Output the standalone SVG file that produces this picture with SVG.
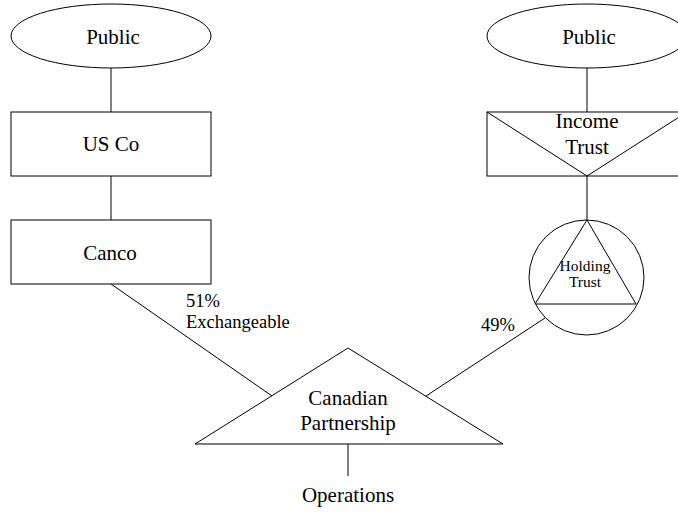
<svg xmlns="http://www.w3.org/2000/svg" width="678" height="512" viewBox="0 0 678 512" font-family="Liberation Serif">
  <style>
    .shape { fill: none; stroke: #000; stroke-width: 1; }
    .link { fill: none; stroke: #000; stroke-width: 1; }
    .lbl { font-size: 21px; text-anchor: middle; fill: #000; }
    .pct { font-size: 18.5px; fill: #000; }
    .small { font-size: 15.5px; text-anchor: middle; fill: #000; }
  </style>
  <rect width="678" height="512" fill="#fff"/>

  <g id="connectors">
    <line class="link" x1="111" y1="68" x2="111" y2="112"/>
    <line class="link" x1="111" y1="176" x2="111" y2="220"/>
    <line class="link" x1="111" y1="284" x2="272" y2="396"/>
    <line class="link" x1="587" y1="68" x2="587" y2="112"/>
    <line class="link" x1="587" y1="176" x2="587" y2="220"/>
    <line class="link" x1="426" y1="396" x2="545" y2="318"/>
    <line class="link" x1="348" y1="444" x2="348" y2="476"/>
  </g>

  <g id="public-left">
    <ellipse class="shape" cx="111" cy="36" rx="100" ry="32"/>
    <text class="lbl" font-family="Liberation Serif" x="113" y="44">Public</text>
  </g>

  <g id="us-co">
    <rect class="shape" x="11" y="112" width="200" height="64"/>
    <text class="lbl" font-family="Liberation Serif" x="111" y="151">US Co</text>
  </g>

  <g id="canco">
    <rect class="shape" x="11" y="220" width="200" height="64"/>
    <text class="lbl" font-family="Liberation Serif" x="110" y="260">Canco</text>
  </g>

  <g id="label-51">
    <text class="pct" font-family="Liberation Serif" x="186" y="307">51%</text>
    <text class="pct" font-family="Liberation Serif" x="186" y="328">Exchangeable</text>
  </g>

  <g id="public-right">
    <ellipse class="shape" cx="587" cy="36" rx="100" ry="32"/>
    <text class="lbl" font-family="Liberation Serif" x="589" y="44">Public</text>
  </g>

  <g id="income-trust">
    <rect class="shape" x="487" y="112" width="200" height="64"/>
    <polyline class="shape" points="487,112 587,176 687,112"/>
    <text class="lbl" font-family="Liberation Serif" x="587" y="128">Income</text>
    <text class="lbl" font-family="Liberation Serif" x="587" y="154">Trust</text>
  </g>

  <g id="holding-trust">
    <circle class="shape" cx="586.5" cy="277.5" r="57.5"/>
    <polygon class="shape" points="587,220 535,304 636,304"/>
    <text class="small" font-family="Liberation Serif" x="585" y="271">Holding</text>
    <text class="small" font-family="Liberation Serif" x="585" y="287">Trust</text>
  </g>

  <g id="label-49">
    <text class="pct" font-family="Liberation Serif" x="515" y="331" text-anchor="end">49%</text>
  </g>

  <g id="canadian-partnership">
    <polygon class="shape" points="348,348 195,444 503,444"/>
    <text class="lbl" font-family="Liberation Serif" x="348" y="405">Canadian</text>
    <text class="lbl" font-family="Liberation Serif" x="348" y="430">Partnership</text>
  </g>

  <g id="operations">
    <text class="lbl" font-family="Liberation Serif" x="348" y="502">Operations</text>
  </g>
</svg>
